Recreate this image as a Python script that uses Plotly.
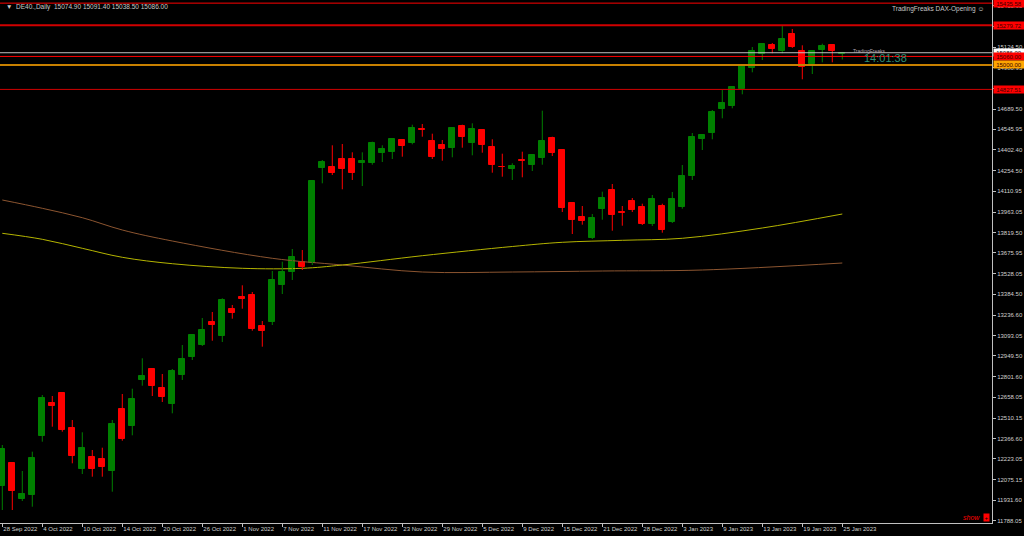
import plotly.graph_objects as go

# ---------------- data ----------------
opens = [12032.4, 12192.4, 11938.6, 11971.1, 12386.9, 12617.4, 12685.7, 12439.0, 12150.1, 12234.7,
         12220.6, 12140.2, 12573.0, 12457.4, 12779.5, 12854.9, 12721.0, 12612.4, 12814.7, 12943.7,
         13024.0, 13188.2, 13089.6, 13277.8, 13366.6, 13376.4, 13160.1, 13190.4, 13451.1, 13542.7,
         13611.1, 13602.0, 14271.5, 14280.7, 14335.0, 14335.0, 14311.0, 14311.0, 14381.5, 14386.4,
         14471.0, 14447.7, 14550.6, 14466.0, 14433.6, 14412.5, 14571.8, 14447.7, 14541.5, 14421.6,
         14282.8, 14264.5, 14330.0, 14294.8, 14346.2, 14483.0, 14398.4, 14024.8, 13928.3, 13778.2,
         13984.7, 14118.6, 13963.5, 14043.2, 13998.8, 13876.8, 14003.7, 13890.9, 13995.8, 14217.3,
         14475.9, 14518.2, 14691.6, 14710.6, 14832.5, 14980.5, 15077.1, 15140.5, 15100.4, 15218.1,
         15100.4, 15004.5, 15107.4, 15140.5, 15074.9]
highs = [12321.3, 12199.4, 12138.1, 12274.1, 12673.7, 12666.7, 12689.9, 12497.5, 12410.9, 12286.1,
         12302.3, 12497.5, 12680.8, 12718.1, 12932.4, 12860.0, 12821.7, 12857.0, 13026.1, 13103.7,
         13216.4, 13258.7, 13355.3, 13308.1, 13446.9, 13399.7, 13195.3, 13547.7, 13613.2, 13702.7,
         13695.7, 14189.1, 14330.0, 14433.6, 14442.8, 14384.3, 14384.3, 14459.0, 14433.6, 14485.1,
         14475.9, 14578.8, 14583.8, 14515.4, 14471.0, 14560.5, 14578.8, 14588.7, 14544.0, 14475.9,
         14374.4, 14306.8, 14388.5, 14372.3, 14677.5, 14494.2, 14401.0, 14027.0, 14005.8, 13949.4,
         14106.6, 14160.9, 14005.8, 14062.2, 14022.0, 14083.3, 14022.0, 14104.5, 14294.8, 14520.3,
         14511.2, 14682.4, 14823.4, 14842.4, 15006.6, 15126.4, 15154.6, 15154.6, 15274.5, 15253.3,
         15138.4, 15102.0, 15149.7, 15145.5, 15091.4]
lows = [11863.2, 11863.2, 11926.7, 11886.5, 12344.6, 12450.3, 12415.1, 12192.4, 12116.9, 12097.9,
        12097.9, 11992.2, 12351.6, 12389.7, 12739.3, 12666.7, 12624.4, 12544.8, 12779.5, 12920.4,
        13019.1, 13056.4, 13047.3, 13211.5, 13282.0, 13126.9, 13014.2, 13167.1, 13385.6, 13484.3,
        13554.7, 13590.0, 14165.8, 14224.3, 14123.5, 14189.1, 14146.8, 14296.9, 14315.9, 14337.1,
        14353.3, 14440.7, 14494.2, 14337.1, 14325.1, 14349.1, 14416.7, 14363.1, 14381.5, 14240.5,
        14212.3, 14189.1, 14208.1, 14252.5, 14296.9, 14358.2, 13963.5, 13808.5, 13874.0, 13773.2,
        13909.3, 13831.7, 13867.0, 13963.5, 13871.9, 13864.9, 13817.6, 13886.0, 13986.8, 14189.1,
        14400.5, 14475.9, 14623.9, 14694.4, 14793.1, 14948.1, 15034.8, 15082.0, 15082.0, 15120.0,
        14898.8, 14936.1, 15018.6, 15018.6, 15038.5]
closes = [12291.0, 11999.3, 11976.0, 12227.6, 12652.6, 12598.3, 12429.2, 12241.7, 12300.2, 12150.1,
          12164.2, 12467.2, 12361.5, 12643.4, 12809.8, 12735.1, 12661.8, 12845.0, 12927.5, 13096.6,
          13131.9, 13165.0, 13343.3, 13253.8, 13350.3, 13141.0, 13126.9, 13484.3, 13540.6, 13648.5,
          13578.0, 14184.1, 14313.8, 14240.5, 14268.7, 14236.3, 14325.1, 14447.7, 14407.5, 14480.1,
          14430.8, 14555.6, 14543.6, 14353.3, 14407.5, 14555.6, 14490.0, 14546.4, 14433.6, 14292.7,
          14278.6, 14289.8, 14323.0, 14365.3, 14463.9, 14381.5, 13989.6, 13905.0, 13902.2, 13921.2,
          14062.2, 13940.3, 13956.5, 13979.7, 13878.9, 14057.3, 13834.5, 14055.1, 14217.3, 14494.2,
          14506.2, 14666.2, 14729.6, 14842.4, 14999.6, 15096.1, 15150.0, 15110.2, 15184.9, 15124.3,
          14983.4, 15098.3, 15131.4, 15098.3, 15086.0]

date_tick_bars = [0, 4, 8, 12, 16, 20, 24, 28, 32, 36, 40, 44, 48, 52, 56, 60, 64, 68, 72, 76, 80, 84]
date_tick_labels = ["28 Sep 2022", "4 Oct 2022", "10 Oct 2022", "14 Oct 2022", "20 Oct 2022",
                    "26 Oct 2022", "1 Nov 2022", "7 Nov 2022", "11 Nov 2022", "17 Nov 2022",
                    "23 Nov 2022", "29 Nov 2022", "5 Dec 2022", "9 Dec 2022", "15 Dec 2022",
                    "21 Dec 2022", "28 Dec 2022", "3 Jan 2023", "9 Jan 2023", "13 Jan 2023",
                    "19 Jan 2023", "25 Jan 2023"]

price_ticks = [11788.05, 11931.60, 12075.15, 12223.05, 12366.60, 12510.15, 12658.05, 12801.60,
               12949.50, 13093.05, 13236.60, 13384.50, 13528.05, 13675.95, 13819.50, 13963.05,
               14110.95, 14254.50, 14402.40, 14545.95, 14689.50, 14833.05, 14980.95, 15124.50,
               15268.05, 15415.95]

ma_fast_bars = [0, 4, 8, 12, 17, 24, 30, 34, 42, 51, 56, 62, 68, 76, 84]
ma_fast_vals = [13813.4, 13771.1, 13707.7, 13644.2, 13599.1, 13566.7, 13566.7, 13590.0, 13655.5,
                13720.4, 13750.0, 13764.1, 13778.2, 13850.8, 13949.4]
ma_slow_bars = [0, 4, 8, 12, 17, 27, 34, 42, 51, 60, 70, 84]
ma_slow_vals = [14048.1, 13989.6, 13923.4, 13836.7, 13759.1, 13637.2, 13590.0, 13540.6, 13540.6,
                13547.7, 13554.7, 13604.1]

level_values = [15435.58, 15279.72, 15060.00, 15000.00, 14827.51]
level_line_colors = ["#ff0000", "#d00000", "#ff0000", "#c88000", "#d00000"]
level_box_colors = ["#ff0000", "#ff0000", "#ff0000", "#ffa500", "#ff0000"]
level_widths = [1, 2, 1, 2, 1]

symbol = "DE40.,Daily"
timer_text = "14:01:38"
indicator_text = "TradingFreaks DAX-Opening \u263a"

# ---------------- figure ----------------
n = len(opens)
bars = list(range(n))
UP, DOWN = "#008000", "#ff0000"
FONT = "Liberation Sans"

fig = go.Figure()

fig.add_trace(go.Scatter(x=ma_slow_bars, y=ma_slow_vals, mode="lines",
                         line=dict(color="#8c5530", width=1, shape="spline"), hoverinfo="skip"))
fig.add_trace(go.Scatter(x=ma_fast_bars, y=ma_fast_vals, mode="lines",
                         line=dict(color="#b4b400", width=1, shape="spline"), hoverinfo="skip"))

for up in (True, False):
    idx = [i for i in bars if (closes[i] >= opens[i]) == up]
    col = UP if up else DOWN
    wx, wy = [], []
    for i in idx:
        wx += [i, i, None]
        wy += [lows[i], highs[i], None]
    fig.add_trace(go.Scatter(x=wx, y=wy, mode="lines", line=dict(color=col, width=1),
                             hoverinfo="skip"))
    fig.add_trace(go.Bar(x=idx,
                         base=[min(opens[i], closes[i]) for i in idx],
                         y=[max(abs(closes[i] - opens[i]), 3) for i in idx],
                         width=0.62, marker=dict(color=col, line=dict(color=col, width=1)),
                         hoverinfo="skip"))

# horizontal levels
for v, lc, w in zip(level_values, level_line_colors, level_widths):
    fig.add_shape(type="line", xref="paper", x0=0, x1=1, yref="y", y0=v, y1=v,
                  line=dict(color=lc, width=w))
# bid line
fig.add_shape(type="line", xref="paper", x0=0, x1=1, yref="y", y0=closes[-1], y1=closes[-1],
              line=dict(color="#c0c0c0", width=1))

annotations = []
# bid box (mostly hidden)
annotations.append(dict(xref="paper", x=1, xanchor="left", xshift=1, yref="y", y=closes[-1],
                        text=f"{closes[-1]:.2f}", showarrow=False, bgcolor="#ffffff",
                        font=dict(size=6, color="#000000", family=FONT),
                        width=30, height=7, borderpad=0))
for v, bc in zip(level_values, level_box_colors):
    annotations.append(dict(xref="paper", x=1, xanchor="left", xshift=1, yref="y", y=v,
                            text=f"{v:.2f}", showarrow=False, bgcolor=bc,
                            font=dict(size=6, color="#400000", family=FONT),
                            width=30, height=7, borderpad=0))

annotations.append(dict(xref="paper", yref="paper", x=0, y=1, xanchor="left", yanchor="top",
                        xshift=4, yshift=-1, showarrow=False,
                        text=f"\u25bc  {symbol}  {opens[-1]:.2f} {highs[-1]:.2f} {lows[-1]:.2f} {closes[-1]:.2f}",
                        font=dict(size=6.5, color="#c8c8c8", family=FONT)))
annotations.append(dict(xref="paper", yref="paper", x=1, y=1, xanchor="right", yanchor="top",
                        xshift=-6, yshift=-3, showarrow=False, text=indicator_text,
                        font=dict(size=6.5, color="#c8c8c8", family=FONT)))
annotations.append(dict(xref="x", yref="y", x=n + 1.0, y=15050, xanchor="left", yanchor="middle",
                        showarrow=False, text=timer_text,
                        font=dict(size=11, color="#2e8c72", family=FONT)))
annotations.append(dict(xref="x", yref="y", x=n - 0.1, y=15100, xanchor="left", yanchor="middle",
                        showarrow=False, text="TradingFreaks",
                        font=dict(size=5, color="#b0a0b0", family=FONT)))
annotations.append(dict(xref="paper", yref="paper", x=1, y=0, xanchor="right", yanchor="bottom",
                        xshift=-10, yshift=0, showarrow=False, text="<i>show</i>",
                        font=dict(size=7, color="#ff0000", family=FONT)))
annotations.append(dict(xref="paper", yref="paper", x=1, y=0, xanchor="right", yanchor="bottom",
                        xshift=-2, yshift=1, showarrow=False, text="+", bgcolor="#ff0000",
                        width=5, height=7, borderpad=0,
                        font=dict(size=6, color="#000000", family=FONT)))

fig.update_layout(
    width=1024, height=536,
    margin=dict(l=0, r=32, t=0, b=13, autoexpand=False),
    paper_bgcolor="#000000", plot_bgcolor="#000000",
    showlegend=False, barmode="overlay", bargap=0,
    annotations=annotations,
    font=dict(family=FONT, size=6, color="#d0d0d0"),
    xaxis=dict(range=[-0.23, 98.97], tickmode="array", tickvals=date_tick_bars,
               ticktext=date_tick_labels, ticks="outside", ticklen=3, tickcolor="#c0c0c0",
               ticklabelposition="outside right", tickangle=0, automargin=False,
               showgrid=False, zeroline=False,
               showline=True, linecolor="#c0c0c0", linewidth=1, mirror=True,
               tickfont=dict(size=6, color="#d0d0d0", family=FONT)),
    yaxis=dict(range=[11771.6, 15457.7], side="right", tickmode="array", tickvals=price_ticks,
               ticktext=[f"{t:.2f}" for t in price_ticks], ticks="outside", ticklen=3,
               automargin=False,
               tickcolor="#c0c0c0", showgrid=False, zeroline=False, showline=True,
               linecolor="#c0c0c0", linewidth=1, mirror=True,
               tickfont=dict(size=6, color="#d0d0d0", family=FONT)),
)

fig.write_html("out.html", config={"displayModeBar": False},
               post_script="document.body.style.margin='0';document.body.style.background='#000';")
